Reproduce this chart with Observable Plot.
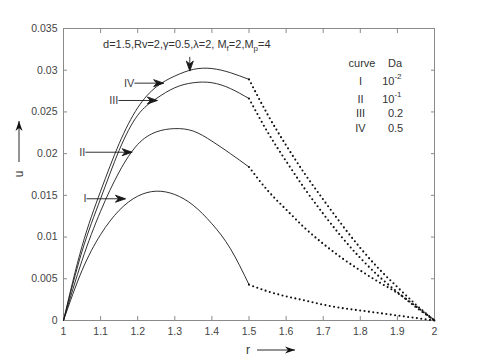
<!DOCTYPE html>
<html><head><meta charset="utf-8">
<script src="https://cdn.jsdelivr.net/npm/d3@7"></script>
<script src="https://cdn.jsdelivr.net/npm/@observablehq/plot@0.6"></script>
<style>
html,body{margin:0;padding:0;background:#fff;}
#chart{width:480px;height:360px;}
</style></head><body><div id="chart"></div>
<script>
// ---- data ----
const curves = ["I", "II", "III", "IV"];
const daBase = ["10", "10", "0.2", "0.5"];
const daExp = ["-2", "-1", "", ""];
const rSolid = [1, 1.05, 1.1, 1.15, 1.2, 1.25, 1.3, 1.35, 1.4, 1.45, 1.5];
const uSolidI   = [0, 0.0060, 0.0103, 0.0132, 0.0149, 0.0155, 0.0151, 0.0138, 0.0116, 0.0086, 0.0043];
const uSolidII  = [0, 0.0072, 0.0131, 0.0178, 0.0211, 0.0226, 0.0230, 0.0227, 0.0215, 0.0200, 0.0184];
const uSolidIII = [0, 0.0083, 0.0146, 0.0204, 0.0246, 0.0266, 0.0279, 0.0285, 0.0285, 0.0278, 0.0266];
const uSolidIV  = [0, 0.0089, 0.0155, 0.0212, 0.0255, 0.0280, 0.0293, 0.0301, 0.0302, 0.0297, 0.0289];
const rDotted = [1.5, 1.55, 1.6, 1.65, 1.7, 1.75, 1.8, 1.85, 1.9, 1.95, 2];
const uDottedI   = [0.0043, 0.0035, 0.0029, 0.0024, 0.0019, 0.0015, 0.0012, 0.0009, 0.0006, 0.0003, 0];
const uDottedII  = [0.0184, 0.0156, 0.0133, 0.0111, 0.0092, 0.0075, 0.0060, 0.0046, 0.0033, 0.0017, 0];
const uDottedIII = [0.0266, 0.0226, 0.0191, 0.0158, 0.0128, 0.0100, 0.0075, 0.0053, 0.0034, 0.0016, 0];
const uDottedIV  = [0.0289, 0.0247, 0.0210, 0.0176, 0.0145, 0.0115, 0.0087, 0.0062, 0.0040, 0.0019, 0];
const xTicks = [1, 1.1, 1.2, 1.3, 1.4, 1.5, 1.6, 1.7, 1.8, 1.9, 2];
const yTicks = [0, 0.005, 0.01, 0.015, 0.02, 0.025, 0.03, 0.035];

// annotation arrows (data coordinates)
const arrowLabels = ["IV", "III", "II", "I"];
const arrowR1 = [1.191, 1.148, 1.059, 1.062];
const arrowR2 = [1.270, 1.253, 1.185, 1.167];
const arrowU  = [0.02845, 0.02637, 0.02017, 0.01459];
const topArrow = {r: 1.3404, u1: 0.0316, u2: 0.0299};
const titleAt = {r: 1.108, u: 0.0326};
const legendAt = {rCurve: 1.8046, rDa: 1.8935, rNum: 1.8005, rDaVal: 1.895, rDaBase: 1.892,
                  uHead: 0.0308, uRows: [0.02871, 0.02655, 0.02487, 0.02307]};

// ---- tables ----
const uSolid = [uSolidI, uSolidII, uSolidIII, uSolidIV];
const uDotted = [uDottedI, uDottedII, uDottedIII, uDottedIV];
const solid = curves.flatMap((c, i) => rSolid.map((r, j) => ({curve: c, r, u: uSolid[i][j]})));
const dotted = curves.flatMap((c, i) => rDotted.map((r, j) => ({curve: c, r, u: uDotted[i][j]})));
const arrows = arrowLabels.map((l, i) => ({label: l, r1: arrowR1[i], r2: arrowR2[i], u: arrowU[i]}));
const legendRows = curves.map((c, i) => ({curve: c, base: daBase[i], exp: daExp[i], u: legendAt.uRows[i]}));

function headMarker(color) {
  const ns = "http://www.w3.org/2000/svg";
  const m = document.createElementNS(ns, "marker");
  m.setAttribute("viewBox", "-11 -5 12 10");
  m.setAttribute("markerWidth", 12);
  m.setAttribute("markerHeight", 10);
  m.setAttribute("markerUnits", "userSpaceOnUse");
  m.setAttribute("refX", 0);
  m.setAttribute("refY", 0);
  m.setAttribute("orient", "auto");
  const p = document.createElementNS(ns, "path");
  p.setAttribute("d", "M0,0L-10,-3.5L-7,0L-10,3.5Z");
  p.setAttribute("fill", color || "#111");
  m.appendChild(p);
  return m;
}

const FONT = "'Liberation Sans', Arial, Helvetica, sans-serif";
const textCol = "#333";
const axisCol = "#8a8a8a";

const plot = Plot.plot({
  width: 480, height: 360,
  marginLeft: 63, marginRight: 46, marginTop: 28, marginBottom: 40,
  x: {domain: [1, 2]},
  y: {domain: [0, 0.035]},
  style: {fontFamily: FONT, fontSize: "10.5px", background: "white", color: textCol, overflow: "visible"},
  marks: [
    Plot.frame({stroke: axisCol}),
    Plot.axisX({anchor: "bottom", ticks: xTicks, tickSize: -4, tickPadding: 11, tickFormat: d => String(d), label: null, stroke: axisCol, fill: "#444"}),
    Plot.axisX({anchor: "top", ticks: xTicks, tickSize: -4, tickFormat: () => "", label: null, stroke: axisCol}),
    Plot.axisY({anchor: "left", ticks: yTicks, tickSize: -4, tickPadding: 10, tickFormat: d => String(d), label: null, stroke: axisCol, fill: "#444"}),
    Plot.axisY({anchor: "right", ticks: yTicks, tickSize: -4, tickFormat: () => "", label: null, stroke: axisCol}),
    Plot.line(solid, {x: "r", y: "u", z: "curve", curve: "natural", stroke: "#1a1a1a", strokeWidth: 0.9}),
    Plot.line(dotted, {x: "r", y: "u", z: "curve", curve: "natural", stroke: "#111", strokeWidth: 2.1, strokeDasharray: "0 4.4", strokeLinecap: "round"}),
    Plot.link(arrows, {x1: "r1", x2: "r2", y1: "u", y2: "u", stroke: "#1a1a1a", strokeWidth: 0.9, markerEnd: headMarker}),
    Plot.link([topArrow], {x1: "r", x2: "r", y1: "u1", y2: "u2", stroke: "#1a1a1a", strokeWidth: 0.9, markerEnd: headMarker}),
    Plot.text(arrows, {x: "r1", y: "u", text: "label", textAnchor: "end", fill: "#444", fontSize: 11}),
    Plot.text(["curve"], {x: legendAt.rCurve, y: legendAt.uHead, text: d => d, fill: textCol, fontSize: 11}),
    Plot.text(["Da"], {x: legendAt.rDa, y: legendAt.uHead, text: d => d, fill: textCol, fontSize: 11}),
    Plot.text(legendRows, {x: legendAt.rNum, y: "u", text: "curve", fill: textCol, fontSize: 11}),
    Plot.text(legendRows.filter(d => !d.exp), {x: legendAt.rDaVal, y: "u", text: "base", fill: textCol, fontSize: 11}),
    Plot.text(legendRows.filter(d => d.exp), {x: legendAt.rDaBase, y: "u", text: "base", textAnchor: "end", fill: textCol, fontSize: 11}),
    Plot.text(legendRows.filter(d => d.exp), {x: legendAt.rDaBase, y: "u", text: "exp", textAnchor: "start", dy: -5, fill: textCol, fontSize: 8})
  ]
});

document.getElementById("chart").appendChild(plot);

// title with subscripts and axis labels with arrows
const svg = d3.select(plot);
const sx = plot.scale("x"), sy = plot.scale("y");
const t = svg.append("text")
  .attr("x", sx.apply(titleAt.r)).attr("y", sy.apply(titleAt.u))
  .attr("text-anchor", "start")
  .attr("font-family", FONT).attr("font-size", 11).attr("fill", textCol);
t.append("tspan").text("d=1.5,Rv=2,");
t.append("tspan").text("γ");
t.append("tspan").text("=0.5,");
t.append("tspan").text("λ");
t.append("tspan").text("=2, M");
t.append("tspan").attr("dy", 3).attr("font-size", 8).text("f");
t.append("tspan").attr("dy", -3).text("=2,M");
t.append("tspan").attr("dy", 3).attr("font-size", 8).text("p");
t.append("tspan").attr("dy", -3).text("=4");

const defs = svg.append("defs");
const mk = headMarker("#111");
mk.setAttribute("id", "axis-arrow-head");
defs.node().appendChild(mk);

// x label
svg.append("text").attr("x", 248).attr("y", 354).attr("text-anchor", "middle")
  .attr("font-family", FONT).attr("font-size", 12).attr("fill", textCol).text("r");
svg.append("line").attr("x1", 257).attr("x2", 295).attr("y1", 350).attr("y2", 350)
  .attr("stroke", "#111").attr("stroke-width", 0.9).attr("marker-end", "url(#axis-arrow-head)");
// y label
svg.append("text").attr("transform", "translate(23,174) rotate(-90)").attr("text-anchor", "middle")
  .attr("font-family", FONT).attr("font-size", 12).attr("fill", textCol).text("u");
svg.append("line").attr("x1", 19).attr("x2", 19).attr("y1", 162).attr("y2", 121)
  .attr("stroke", "#111").attr("stroke-width", 0.9).attr("marker-end", "url(#axis-arrow-head)");
</script>
</body></html>
